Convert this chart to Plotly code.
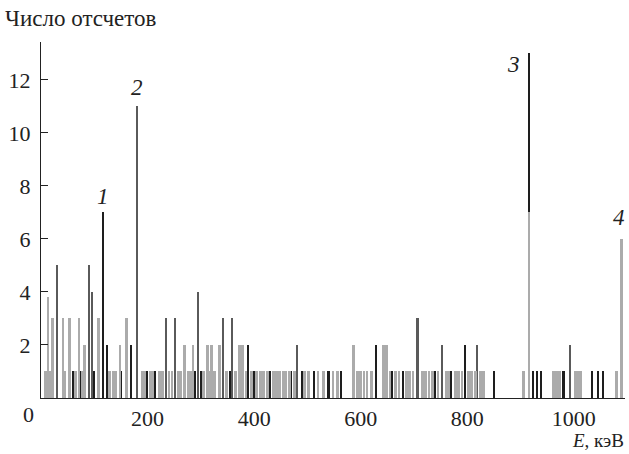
import plotly.graph_objects as go

# --- data (energy keV, counts) ---
black_E = [60, 75, 100, 116, 125, 150, 170, 200, 215, 270, 290, 300, 336, 355, 389, 400, 430, 470,
           490, 512, 540, 564, 600, 630, 660, 680, 740, 770, 796, 810, 850, 916, 924, 931, 938,
           981, 1034, 1045, 1056]
black_N = [1, 1, 1, 7, 2, 1, 2, 1, 1, 1, 1, 1, 2, 1, 2, 1, 1, 1,
           1, 1, 1, 1, 1, 2, 1, 1, 1, 1, 2, 1, 1, 13, 1, 1, 1,
           1, 1, 1, 1]

dark_E = [31, 90, 97, 180, 235, 252, 295, 342, 359, 481, 707, 753, 819, 994]
dark_N = [5, 5, 4, 11, 3, 3, 4, 3, 3, 2, 3, 2, 2, 2]

light_E = [13, 22, 41, 54, 71, 82, 108, 148, 160, 269, 285, 312, 320, 335, 372, 378, 587, 643, 649,
           916, 1089,
           8, 18, 45, 65, 78, 128, 135, 140, 190, 195, 205, 210, 222, 228, 240, 246, 258, 262, 276,
           280, 305, 318, 326, 348, 365, 385, 395, 405, 412, 418, 425, 436, 442, 448, 455, 460, 466,
           476, 495, 502, 520, 530, 548, 556, 594, 600, 606, 612, 620, 655, 665, 672, 686, 692, 698,
           716, 722, 728, 735, 745, 760, 765, 778, 784, 790, 802, 808, 815, 825, 830, 905, 961, 966,
           970, 974, 1002, 1006, 1010, 1013, 1080]
light_N = [3.8, 3, 3, 3, 3, 2, 3, 2, 3, 2, 2, 2, 2, 2, 2, 2, 2, 2, 2,
           7, 6,
           1, 1, 1, 1, 1, 1, 1, 1, 1, 1, 1, 1, 1, 1, 1, 1, 1, 1, 1,
           1, 1, 1, 1, 1, 1, 1, 1, 1, 1, 1, 1, 1, 1, 1, 1, 1, 1,
           1, 1, 1, 1, 1, 1, 1, 1, 1, 1, 1, 1, 1, 1, 1, 1, 1, 1,
           1, 1, 1, 1, 1, 1, 1, 1, 1, 1, 1, 1, 1, 1, 1, 1, 1, 1,
           1, 1, 1, 1, 1, 1, 1]

peak_labels = ["1", "2", "3", "4"]
peak_label_E = [116, 180, 887, 1084]
peak_label_N = [7.6, 11.7, 12.6, 6.8]

x_ticks = [200, 400, 600, 800, 1000]
y_ticks = [2, 4, 6, 8, 10, 12]

SERIF = "Liberation Serif, DejaVu Serif, serif"

fig = go.Figure()
fig.add_trace(go.Bar(x=black_E, y=black_N, width=3, marker=dict(color="#1e1e1e", line=dict(width=0))))
fig.add_trace(go.Bar(x=dark_E, y=dark_N, width=3, marker=dict(color="#5a5a5a", line=dict(width=0))))
fig.add_trace(go.Bar(x=light_E, y=light_N, width=5, marker=dict(color="#ababab", line=dict(width=0))))

for t, xe, yn in zip(peak_labels, peak_label_E, peak_label_N):
    fig.add_annotation(x=xe, y=yn, xref="x", yref="y", text=f"<i>{t}</i>", showarrow=False,
                       font=dict(family=SERIF, size=23, color="#222"))

fig.add_annotation(x=0, y=1.0, xref="paper", yref="paper", xanchor="left", yanchor="bottom",
                   text="Число отсчетов", showarrow=False, xshift=-38, yshift=9,
                   font=dict(family=SERIF, size=23, color="#222"))
fig.add_annotation(x=1.0, y=0, xref="paper", yref="paper", xanchor="right", yanchor="top",
                   text="<i>E</i>, кэВ", showarrow=False, yshift=-31, borderpad=0,
                   font=dict(family=SERIF, size=19, color="#222"))
fig.add_annotation(x=0, y=0, xref="paper", yref="paper", xanchor="center", yanchor="top",
                   text="0", showarrow=False, xshift=-13, yshift=-2,
                   font=dict(family=SERIF, size=22, color="#222"))

fig.update_layout(
    width=629, height=454,
    margin=dict(l=41, r=4, t=42, b=56),
    paper_bgcolor="white", plot_bgcolor="white",
    barmode="overlay", bargap=0, showlegend=False,
    font=dict(family=SERIF, size=22, color="#222"),
)
fig.update_xaxes(range=[0, 1096], tickvals=x_ticks, ticks="", showgrid=False, zeroline=False,
                 showline=True, linecolor="#222", linewidth=1.2, ticklabelstandoff=0)
fig.update_yaxes(range=[0, 13.43], tickvals=y_ticks, ticks="inside", ticklen=7, tickcolor="#222",
                 showgrid=False, zeroline=False, showline=True, linecolor="#222", linewidth=1.2,
                 ticklabelstandoff=5)

fig.write_html("out.html")
